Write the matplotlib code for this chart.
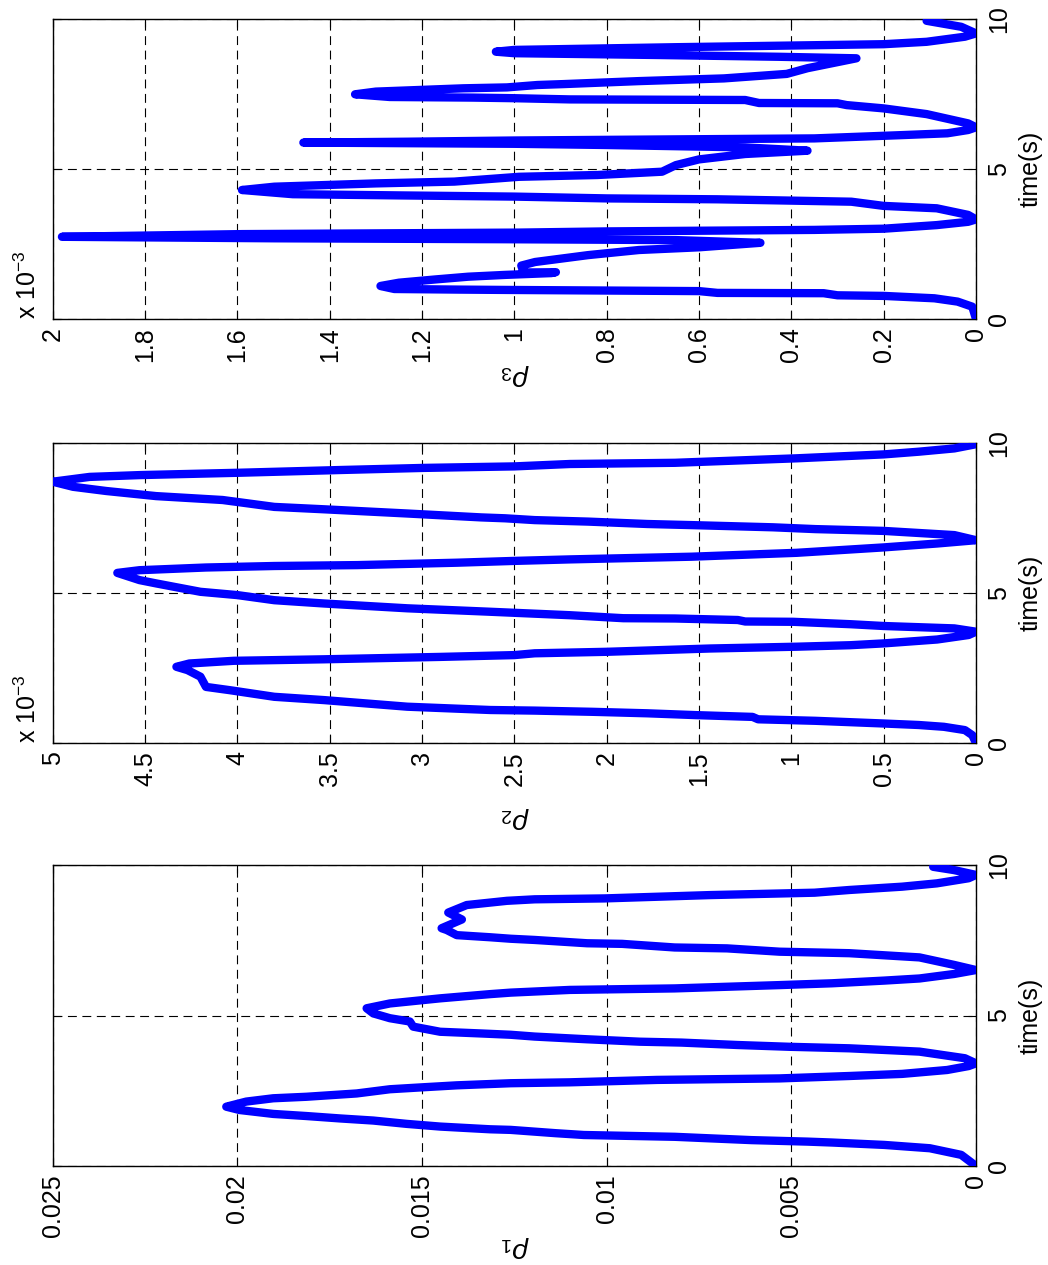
import matplotlib
matplotlib.use("Agg")
import matplotlib.pyplot as plt

plt.rcParams['font.family'] = ['Liberation Sans', 'DejaVu Sans']
plt.rcParams['mathtext.fontset'] = 'custom'
plt.rcParams['mathtext.rm'] = 'Liberation Sans'
plt.rcParams['mathtext.it'] = 'Liberation Sans:italic'

# ---- rho_1 (absolute units) ----
t1 = [0.0, 0.37, 0.59, 0.70, 0.78, 0.81, 0.86, 0.92, 0.97, 1.03, 1.09, 1.20, 1.22, 1.31,
      1.40, 1.51, 1.58, 1.66, 1.73, 1.86, 1.97,
      2.14, 2.25, 2.30, 2.41, 2.55, 2.61, 2.68, 2.75, 2.78, 2.86, 2.91, 2.99, 3.06, 3.19,
      3.32, 3.41,
      3.58, 3.80, 3.91, 3.96, 4.02, 4.10, 4.13, 4.21, 4.30, 4.36, 4.40, 4.46, 4.63, 4.80,
      4.91, 5.07, 5.24,
      5.40, 5.57, 5.71, 5.76, 5.85, 5.90, 6.01, 6.07, 6.16, 6.23, 6.38, 6.51,
      6.68, 6.93, 7.07, 7.12, 7.23, 7.26, 7.38, 7.40, 7.51, 7.55, 7.60, 7.67, 7.84, 7.90,
      8.19, 8.42, 8.67, 8.81, 8.86, 8.89, 9.00, 9.08, 9.17, 9.28, 9.39, 9.56, 9.67, 9.83,
      9.94]
v1 = [0.0, 0.0004, 0.00125, 0.00248, 0.0039, 0.00456, 0.00608, 0.00722, 0.00816, 0.01062,
      0.01138, 0.0126, 0.01316, 0.01451, 0.01542, 0.01632, 0.01722, 0.01813, 0.01903,
      0.01994, 0.0203,
      0.01976, 0.01903, 0.01813, 0.01677, 0.01587, 0.01505, 0.01406, 0.0126, 0.011,
      0.00864, 0.00532, 0.00343, 0.002, 0.00078, 0.0002, 0.0,
      0.0003, 0.00153, 0.00343, 0.00504, 0.00646, 0.00797, 0.00911, 0.01053, 0.01195,
      0.0126, 0.01334, 0.01451, 0.01524, 0.01533, 0.01587, 0.01632, 0.0165,
      0.01587, 0.01451, 0.01316, 0.0126, 0.011, 0.00816, 0.00532, 0.0039, 0.00248,
      0.00153, 0.00059, 0.0,
      0.00059, 0.00153, 0.00343, 0.00532, 0.00674, 0.00816, 0.00958, 0.01053, 0.01195,
      0.0126, 0.01316, 0.01406, 0.01433, 0.01447, 0.01392, 0.01429, 0.01379, 0.0127,
      0.01195, 0.01006, 0.00722, 0.00437, 0.00343, 0.002, 0.00106, 0.0002, 0.0, 0.00059,
      0.00116]

# ---- rho_2 (units of 1e-3) ----
t2 = [0.0, 0.26, 0.43, 0.54, 0.60, 0.65, 0.74, 0.79, 0.87, 0.93, 0.99, 1.04, 1.08, 1.10,
      1.21, 1.43, 1.54, 1.76, 1.87, 2.21, 2.43, 2.54,
      2.65, 2.74, 2.79, 2.87, 2.93, 2.99, 3.04, 3.15, 3.21, 3.26, 3.32, 3.45, 3.60, 3.71,
      3.82, 3.90, 3.96, 4.04, 4.05, 4.10, 4.15, 4.16, 4.26, 4.34, 4.38, 4.49, 4.65, 4.76,
      4.93, 5.04, 5.32, 5.43, 5.67,
      5.76, 5.85, 5.90, 5.93, 6.01, 6.07, 6.12, 6.21, 6.34, 6.52, 6.65, 6.76,
      6.93, 7.07, 7.13, 7.19, 7.26, 7.30, 7.38, 7.43, 7.49, 7.52, 7.65, 7.79, 7.87, 8.10,
      8.23, 8.40, 8.54, 8.71,
      8.87, 8.93, 9.01, 9.10, 9.17, 9.22, 9.30, 9.34, 9.49, 9.62, 9.71, 9.82, 9.96]
v2 = [0.0, 0.02, 0.06, 0.174, 0.31, 0.50, 0.87, 1.18, 1.21, 1.52, 1.78, 2.08, 2.39, 2.63,
      3.08, 3.53, 3.80, 4.04, 4.17, 4.20, 4.27, 4.33,
      4.26, 4.02, 3.53, 2.90, 2.50, 2.39, 2.00, 1.44, 0.97, 0.68, 0.50, 0.21, 0.04, 0.0,
      0.117, 0.50, 0.68, 0.99, 1.25, 1.29, 1.63, 1.91, 2.20, 2.50, 2.65, 3.08, 3.53, 3.80,
      4.00, 4.20, 4.44, 4.53, 4.65,
      4.53, 4.17, 3.80, 3.35, 2.81, 2.50, 2.20, 1.54, 0.97, 0.50, 0.21, 0.0,
      0.117, 0.50, 0.87, 1.10, 1.52, 1.78, 2.10, 2.39, 2.55, 2.68, 3.08, 3.53, 3.80, 4.08,
      4.44, 4.71, 4.89, 5.0,
      4.80, 4.53, 3.98, 3.44, 2.99, 2.50, 2.20, 1.63, 0.97, 0.50, 0.31, 0.117, 0.0]

# ---- rho_3 (units of 1e-3) ----
t3 = [0.0, 0.41, 0.58, 0.69, 0.77, 0.79, 0.86, 0.87, 0.93, 0.97, 0.98, 1.00, 1.10,
      1.21, 1.32, 1.41, 1.47, 1.53, 1.56, 1.55, 1.78, 1.90, 2.13, 2.30, 2.39, 2.54,
      2.63, 2.66, 2.69, 2.74,
      2.83, 2.88, 2.92, 2.97, 3.01, 3.13, 3.24, 3.32,
      3.47, 3.69, 3.77, 3.91, 3.99, 4.02, 4.08, 4.12, 4.16, 4.30,
      4.41, 4.52, 4.58, 4.74, 4.80, 4.91, 5.13, 5.32, 5.50, 5.61,
      5.72, 5.80, 5.84, 5.86, 5.88,
      5.91, 5.95, 6.02, 6.13, 6.19, 6.30, 6.39,
      6.52, 6.83, 7.02, 7.13, 7.19, 7.20, 7.30, 7.32, 7.36, 7.38, 7.40, 7.49,
      7.58, 7.69, 7.72, 7.80, 7.83, 7.93, 8.02, 8.17, 8.36, 8.69,
      8.74, 8.80, 8.86, 8.91,
      8.97, 9.06, 9.16, 9.24, 9.41, 9.52, 9.74, 9.94]
v3 = [0.0, 0.008, 0.04, 0.09, 0.20, 0.30, 0.33, 0.56, 0.60, 1.03, 1.12, 1.26, 1.29,
      1.25, 1.17, 1.10, 1.02, 0.92, 0.91, 0.98, 0.985, 0.955, 0.84, 0.73, 0.60, 0.467,
      0.65, 1.03, 1.52, 1.98,
      1.59, 0.99, 0.80, 0.35, 0.20, 0.085, 0.017, 0.0,
      0.017, 0.085, 0.20, 0.27, 0.56, 0.80, 1.00, 1.25, 1.48, 1.59,
      1.52, 1.30, 1.13, 0.99, 0.82, 0.68, 0.65, 0.60, 0.50, 0.365,
      0.50, 0.80, 1.00, 1.23, 1.457,
      1.23, 1.00, 0.35, 0.16, 0.062, 0.017, 0.0,
      0.017, 0.107, 0.20, 0.28, 0.30, 0.47, 0.50, 0.88, 1.00, 1.09, 1.27, 1.345,
      1.30, 1.11, 1.016, 0.95, 0.894, 0.73, 0.546, 0.41, 0.365, 0.259,
      0.425, 0.69, 1.00, 1.04,
      1.00, 0.65, 0.20, 0.107, 0.024, 0.0, 0.032, 0.107]

# value-axis ticks and labels
ticks1 = [0, 0.005, 0.01, 0.015, 0.02, 0.025]
labels1 = ['0', '0.005', '0.01', '0.015', '0.02', '0.025']
ticks2 = [0, 0.5, 1, 1.5, 2, 2.5, 3, 3.5, 4, 4.5, 5]
labels2 = ['0', '0.5', '1', '1.5', '2', '2.5', '3', '3.5', '4', '4.5', '5']
ticks3 = [0, 0.2, 0.4, 0.6, 0.8, 1.0, 1.2, 1.4, 1.6, 1.8, 2.0]
labels3 = ['0', '0.2', '0.4', '0.6', '0.8', '1', '1.2', '1.4', '1.6', '1.8', '2']
time_ticks = [0, 5, 10]
time_labels = ['0', '5', '10']

W, H = 1048, 1265
fig = plt.figure(figsize=(W / 100, H / 100), dpi=100)

x_left, x_right = 52.7, 976.0

panels = [
    # (t, v, ticks, labels, top_px, bottom_px, rho label, label y (axes), scale note)
    (t3, v3, ticks3, labels3, 19, 319, r'$\rho_3$', -0.187, True),
    (t2, v2, ticks2, labels2, 443, 743, r'$\rho_2$', -0.25, True),
    (t1, v1, ticks1, labels1, 865, 1166, r'$\rho_1$', -0.27, False),
]

for t, v, ticks, labels, top, bot, rlab, rly, note in panels:
    ax = fig.add_axes([x_left / W, 1 - bot / H, (x_right - x_left) / W, (bot - top) / H])
    ax.plot(v, t, color=(0, 0, 1), lw=6.0, solid_capstyle='round',
            solid_joinstyle='round', zorder=3)
    ax.set_xlim(ticks[-1], 0)
    ax.set_ylim(0, 10)
    ax.set_xticks(ticks)
    ax.set_xticklabels(labels, rotation=90, ha='center', va='top')
    ax.set_yticks(time_ticks)
    ax.set_yticklabels(time_labels, rotation=90, ha='left', va='center')
    ax.tick_params(which='both', direction='in', top=True, bottom=True, left=True,
                   right=True, labelleft=False, labelright=True, length=6, width=0.8,
                   labelsize=18, colors='k')
    ax.tick_params(axis='x', pad=6)
    ax.tick_params(axis='y', pad=8)
    ax.grid(True, color='k', lw=0.8, ls=(0, (8, 5)), zorder=1)
    for s in ax.spines.values():
        s.set_linewidth(1.0)
        s.set_color('k')
    ax.text(1.0596, 0.5, 'time(s)', rotation=90, ha='center', va='center',
            fontsize=18, transform=ax.transAxes)
    ax.text(0.5, rly, rlab, rotation=180, ha='center', va='center',
            fontsize=20, transform=ax.transAxes)
    if note:
        ax.text(-0.013, 0.0, r'x 10$^{-3}$', rotation=90, ha='right', va='bottom',
                fontsize=18, transform=ax.transAxes)

fig.savefig('out.png', dpi=100)
